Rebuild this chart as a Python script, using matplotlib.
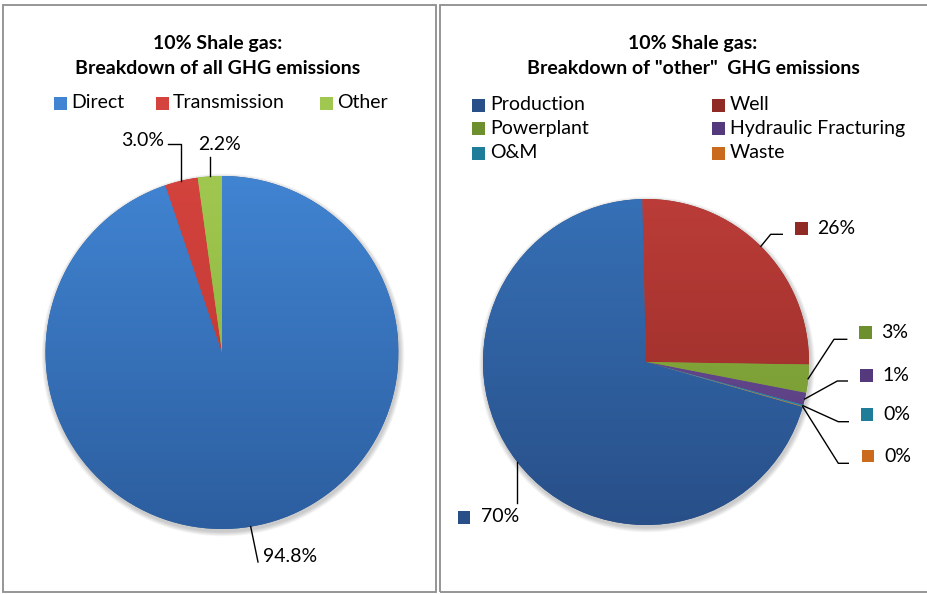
import numpy as np
import matplotlib
matplotlib.use('Agg')
import matplotlib.pyplot as plt
from matplotlib.patches import Rectangle, Circle
from matplotlib.colors import LinearSegmentedColormap

W, H = 927, 594

# left chart: all GHG emissions
all_labels = ['Direct', 'Transmission', 'Other']
all_values = [94.8, 3.0, 2.2]
all_pct = ['94.8%', '3.0%', '2.2%']
all_top = ['#4184d2', '#d4433e', '#a0c850']
all_bot = ['#2c5e9f', '#b8322e', '#86ad3a']

# right chart: breakdown of "other"
other_labels = ['Production', 'Well', 'Powerplant', 'Hydraulic Fracturing', 'O&M', 'Waste']
other_values = [70.2, 25.6, 2.8, 1.2, 0.15, 0.05]
other_pct = ['70%', '26%', '3%', '1%', '0%', '0%']
other_top = ['#3670b6', '#bb3c38', '#93b844', '#6f519a', '#2fa0c2', '#ee8a30']
other_bot = ['#284f88', '#8f2a25', '#6e8f2e', '#543a7c', '#1f7d99', '#c96a1c']

plt.rcParams['font.family'] = ['Lato', 'DejaVu Sans']
TFS = 14   # title size
FS = 14    # legend / label size

def Y(y):
    return H - y

fig = plt.figure(figsize=(W / 100, H / 100), dpi=100)
ax = fig.add_axes([0, 0, 1, 1])

# panel frames
ax.add_patch(Rectangle((3.5, Y(591.5)), 433, 587, fill=False, ec='#8e8e8e', lw=1.3))
ax.add_patch(Rectangle((440.5, Y(591.5)), 500, 587, fill=False, ec='#8e8e8e', lw=1.3))


def draw_pie(values, tops, bots, cx, cy, r, start):
    # soft shadow
    for k in range(1, 7):
        ax.add_patch(Circle((cx + 1, Y(cy) - 2.5), r + k * 0.8, color='k', alpha=0.035, lw=0, zorder=1))
    wedges, _ = ax.pie(values, startangle=start, counterclock=False, center=(cx, Y(cy)),
                       radius=r, colors=bots, wedgeprops=dict(linewidth=0), frame=True)
    grad = np.linspace(0, 1, 256).reshape(-1, 1)
    for w, c1, c2 in zip(wedges, tops, bots):
        w.set_zorder(2)
        cm = LinearSegmentedColormap.from_list('g', [c1, c2])
        im = ax.imshow(grad, cmap=cm, extent=(cx - r, cx + r, Y(cy) - r, Y(cy) + r),
                       aspect='auto', origin='upper', zorder=3)
        im.set_clip_path(w)
    return wedges


def rim(w, cx, cy, r):
    a = np.deg2rad((w.theta1 + w.theta2) / 2)
    return cx + r * np.cos(a), Y(cy) + r * np.sin(a)


# ---------------- left chart ----------------
lcx, lcy, lr = 222, 352.5, 176.5
wl = draw_pie(all_values, all_top, all_bot, lcx, lcy, lr, 90)

ax.text(218, Y(43), '10% Shale gas:', ha='center', va='center', fontsize=TFS, fontweight='bold')
ax.text(218, Y(69), 'Breakdown of all GHG emissions', ha='center', va='center', fontsize=TFS, fontweight='bold')

leg_sq = [54, 156, 320]
for x0, lab, c1, c2 in zip(leg_sq, all_labels, all_top, all_bot):
    ax.add_patch(Rectangle((x0, Y(110)), 13, 13, color=c1, lw=0))
    ax.text(x0 + 17, Y(103), lab, ha='left', va='center', fontsize=FS)

lk = dict(color='k', lw=1.0, zorder=5)
# Direct
px, py = rim(wl[0], lcx, lcy, lr)
ax.plot([px, 258], [py, Y(562)], **lk)
ax.text(263, Y(556), all_pct[0], ha='left', va='center', fontsize=FS)
# Transmission
px, py = rim(wl[1], lcx, lcy, lr)
ax.plot([px, px, 168], [py, Y(144), Y(144)], **lk)
ax.text(164, Y(140), all_pct[1], ha='right', va='center', fontsize=FS)
# Other
px, py = rim(wl[2], lcx, lcy, lr)
ax.plot([px, px], [py, Y(157)], **lk)
ax.text(219.5, Y(145), all_pct[2], ha='center', va='center', fontsize=FS)

# ---------------- right chart ----------------
rcx, rcy, rr = 646, 362, 163
wr = draw_pie(other_values, other_top, other_bot, rcx, rcy, rr, 344)

ax.text(693, Y(43), '10% Shale gas:', ha='center', va='center', fontsize=TFS, fontweight='bold')
ax.text(693, Y(69), 'Breakdown of "other"  GHG emissions', ha='center', va='center', fontsize=TFS, fontweight='bold')

leg_x = [472, 712, 472, 712, 472, 712]
leg_y = [105, 105, 128.5, 128.5, 153, 153]
for x0, y0, lab, c1, c2 in zip(leg_x, leg_y, other_labels, other_top, other_bot):
    ax.add_patch(Rectangle((x0, Y(y0) - 6.5), 13, 13, color=c2, lw=0))
    ax.text(x0 + 18, Y(y0), lab, ha='left', va='center', fontsize=FS)

# label layout: elbow x, elbow y, end x, marker x, text y
elbows = [None, (770.7, 234.3, 782.3, 801.5, 228.5), (834, 339.3, 846.7, 865.5, 332.5),
          (837.3, 381, 847.3, 866.5, 375.5), (838.3, 421.7, 848.3, 867, 414.5),
          (838.3, 463.3, 848.3, 868, 456)]
for i, w in enumerate(wr):
    px, py = rim(w, rcx, rcy, rr)
    if i == 0:
        ax.plot([px, px], [py, Y(503)], **lk)
        ax.add_patch(Rectangle((458, Y(517) - 6.5), 12.5, 12.5, color=other_bot[0], lw=0))
        ax.text(481, Y(517), other_pct[0], ha='left', va='center', fontsize=FS)
        continue
    ex, ey, hx, mx, ty = elbows[i]
    ax.plot([px, ex, hx], [py, Y(ey), Y(ey)], **lk)
    ax.add_patch(Rectangle((mx - 6.25, Y(ty) - 6.25), 12.5, 12.5, color=other_bot[i], lw=0))
    ax.text(mx + 16, Y(ty), other_pct[i], ha='left', va='center', fontsize=FS)

ax.set_xlim(0, W)
ax.set_ylim(0, H)
ax.set_aspect('auto')
ax.axis('off')
fig.savefig('out.png', dpi=100)
